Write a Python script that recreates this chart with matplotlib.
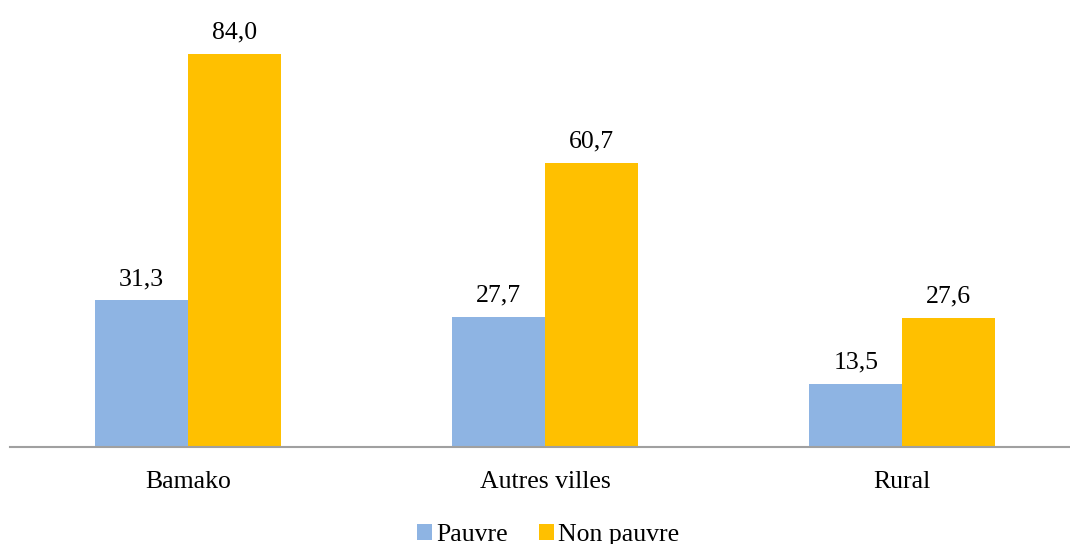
import matplotlib
matplotlib.use("Agg")
import matplotlib.pyplot as plt
import numpy as np

categories = ["Bamako", "Autres villes", "Rural"]
pauvre = [31.3, 27.7, 13.5]
non_pauvre = [84.0, 60.7, 27.6]
series_names = ["Pauvre", "Non pauvre"]
colors = ["#8EB4E3", "#FFC000"]

plt.rcParams['font.family'] = ['Liberation Serif', 'DejaVu Serif']

fig = plt.figure(figsize=(10.7, 5.44), dpi=100)
ax = fig.add_axes([10/1070, 97/544, 1060/1070, 447/544])

x = np.arange(len(categories))
w = 0.26
b1 = ax.bar(x - w/2, pauvre, w, color=colors[0], label=series_names[0])
b2 = ax.bar(x + w/2, non_pauvre, w, color=colors[1], label=series_names[1])

for bars, vals in ((b1, pauvre), (b2, non_pauvre)):
    for r, v in zip(bars, vals):
        ax.annotate(f"{v:.1f}".replace(".", ","), (r.get_x() + r.get_width()/2, v),
                    xytext=(0, 7.5), textcoords="offset points", ha="center", va="bottom",
                    fontsize=18.5, color="black")

ax.set_xlim(-0.4986, 2.47)
ax.set_ylim(0, 95.5)
for s in ["top", "right", "left"]:
    ax.spines[s].set_visible(False)
ax.spines["bottom"].set_color("#a0a0a0")
ax.spines["bottom"].set_linewidth(1.5)
ax.set_yticks([])
ax.set_xticks(x)
ax.set_xticklabels(categories, fontsize=18.5)
ax.tick_params(axis="x", length=0, pad=17)

leg = fig.legend(handles=[b1, b2], labels=series_names, loc="center", bbox_to_anchor=(548/1070, 1 - 535/544),
                 ncol=2, frameon=False, fontsize=18.5, handlelength=0.6, handleheight=0.6,
                 handletextpad=0.15, columnspacing=1.2, borderpad=0)

fig.savefig("out.png", dpi=100)
